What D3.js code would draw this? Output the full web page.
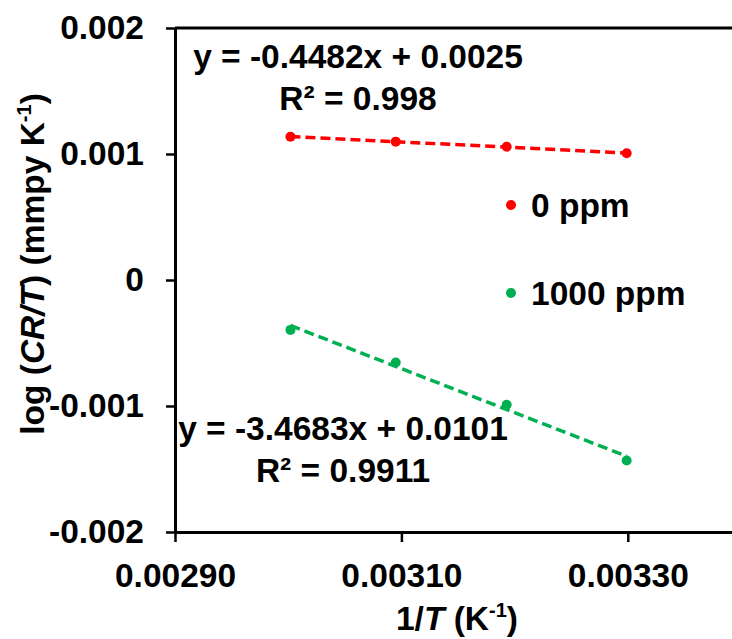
<!DOCTYPE html>
<html>
<head>
<meta charset="utf-8">
<script src="https://cdn.jsdelivr.net/npm/d3@7"></script>
<style>
  body { margin: 0; background: #fff; }
  text { font-family: "Liberation Sans", Arial, sans-serif; font-weight: bold; }
</style>
</head>
<body>
<svg id="chart"></svg>
<script>
// 1/T values (K^-1) for 60, 50, 40, 30 degC
var invT = [0.003002, 0.003095, 0.003193, 0.003299];
var series = ["0 ppm", "1000 ppm"];
var colors = ["#ff0000", "#00b050"];
var logCR0 = [0.001137, 0.001098, 0.001058, 0.001006];
var logCR1000 = [-0.000396, -0.000655, -0.000990, -0.001433];
var equations = ["y = -0.4482x + 0.0025", "y = -3.4683x + 0.0101"];
var rSquared = ["R\u00b2 = 0.998", "R\u00b2 = 0.9911"];
var xTicks = [0.0029, 0.0031, 0.0033];
var xTickLabels = ["0.00290", "0.00310", "0.00330"];
var yTicks = [0.002, 0.001, 0, -0.001, -0.002];
var yTickLabels = ["0.002", "0.001", "0", "-0.001", "-0.002"];

var width = 732, height = 639;
var svg = d3.select("#chart")
    .attr("width", width)
    .attr("height", height);

var x = d3.scaleLinear().domain([0.0029, 0.0034]).range([175, 741]);
var y = d3.scaleLinear().domain([-0.002, 0.002]).range([532, 28]);

// top / right border of plot area
svg.append("path")
    .attr("d", "M" + x(0.0029) + "," + y(0.002) + "H" + x(0.0034) + "V" + y(-0.002))
    .attr("fill", "none")
    .attr("stroke", "#000")
    .attr("stroke-width", 3);

var yAxis = svg.append("g")
    .attr("transform", "translate(" + x(0.0029) + ",0)")
    .call(d3.axisLeft(y)
        .tickValues(yTicks)
        .tickFormat(function (d, i) { return yTickLabels[i]; })
        .tickSize(9)
        .tickSizeOuter(0)
        .tickPadding(22));

var xAxis = svg.append("g")
    .attr("transform", "translate(0," + y(-0.002) + ")")
    .call(d3.axisBottom(x)
        .tickValues(xTicks)
        .tickFormat(function (d, i) { return xTickLabels[i]; })
        .tickSize(10)
        .tickSizeOuter(0)
        .tickPadding(21));

[xAxis, yAxis].forEach(function (g) {
    g.select(".domain").attr("stroke-width", 3);
    g.selectAll(".tick line").attr("stroke-width", 2.5);
    g.selectAll(".tick text")
        .attr("font-size", 33.5)
        .attr("font-family", "'Liberation Sans', Arial, sans-serif")
        .attr("font-weight", "bold")
        .attr("fill", "#000");
});

// data + linear trendlines
var allY = [logCR0, logCR1000];
allY.forEach(function (vals, k) {
    var pts = invT.map(function (v, i) { return [v, vals[i]]; });
    var mx = d3.mean(invT), my = d3.mean(vals);
    var sxy = d3.sum(pts, function (p) { return (p[0] - mx) * (p[1] - my); });
    var sxx = d3.sum(invT, function (v) { return (v - mx) * (v - mx); });
    var slope = sxy / sxx, icpt = my - slope * mx;
    var xs = d3.extent(invT);

    svg.append("line")
        .attr("x1", x(xs[0])).attr("y1", y(slope * xs[0] + icpt))
        .attr("x2", x(xs[1])).attr("y2", y(slope * xs[1] + icpt))
        .attr("stroke", colors[k])
        .attr("stroke-width", 3.5)
        .attr("stroke-dasharray", "10,5");

    svg.append("g").selectAll("circle")
        .data(pts)
        .join("circle")
        .attr("cx", function (d) { return x(d[0]); })
        .attr("cy", function (d) { return y(d[1]); })
        .attr("r", 5)
        .attr("fill", colors[k]);
});

// equations
var eqPos = [[358, 68], [343, 440]];
equations.forEach(function (eq, k) {
    var t = svg.append("text")
        .attr("font-size", 33.5)
        .attr("text-anchor", "middle")
        .attr("fill", "#000");
    t.append("tspan").attr("x", eqPos[k][0]).attr("y", eqPos[k][1]).text(eq);
    t.append("tspan").attr("x", eqPos[k][0]).attr("y", eqPos[k][1] + 42).text(rSquared[k]);
});

// legend
var legend = svg.append("g")
    .selectAll("g")
    .data(series)
    .join("g")
    .attr("transform", function (d, i) { return "translate(511," + (205 + i * 88) + ")"; });
legend.append("circle")
    .attr("r", 5)
    .attr("fill", function (d, i) { return colors[i]; });
legend.append("text")
    .attr("x", 20)
    .attr("y", 12)
    .attr("font-size", 33.5)
    .attr("fill", "#000")
    .text(function (d) { return d; });

// x axis title
var xt = svg.append("text")
    .attr("x", 457)
    .attr("y", 630)
    .attr("font-size", 33.5)
    .attr("text-anchor", "middle");
xt.append("tspan").text("1/");
xt.append("tspan").attr("font-style", "italic").text("T");
xt.append("tspan").text(" (K");
xt.append("tspan").attr("font-size", 20).attr("dy", -13).text("-1");
xt.append("tspan").attr("dy", 13).text(")");

// y axis title
var yt = svg.append("text")
    .attr("transform", "translate(44,264) rotate(-90)")
    .attr("font-size", 33.5)
    .attr("text-anchor", "middle");
yt.append("tspan").text("log (");
yt.append("tspan").attr("font-style", "italic").text("CR/T");
yt.append("tspan").text(") (mmpy K");
yt.append("tspan").attr("font-size", 20).attr("dy", -13).text("-1");
yt.append("tspan").attr("dy", 13).text(")");
</script>
</body>
</html>
